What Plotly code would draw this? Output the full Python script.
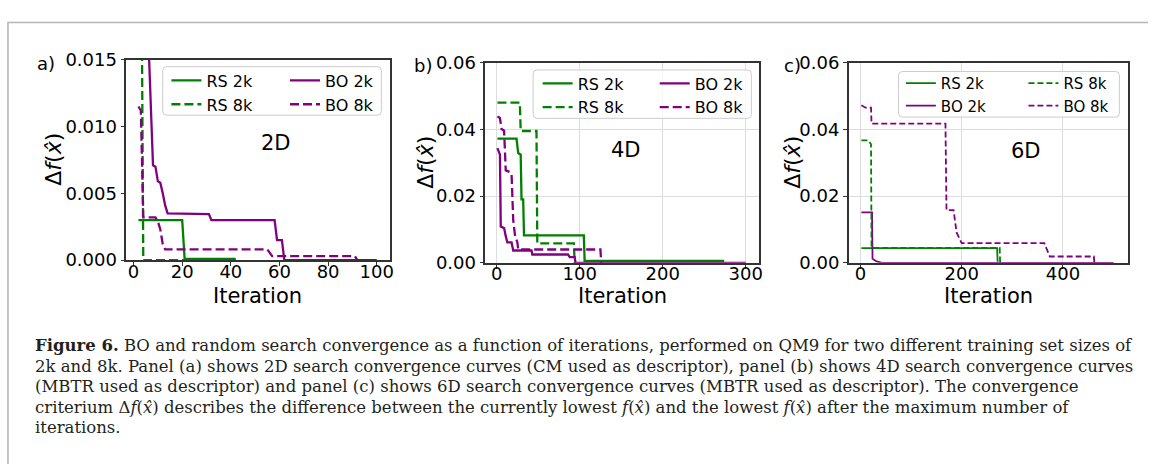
import plotly.graph_objects as go

W, H = 1152, 474

# ---------------- data ----------------
# Panel (a) 2D
a_rs2k_x = [2, 20, 21, 42]
a_rs2k_y = [0.0030, 0.0030, 0.0001, 0.0001]
a_rs8k_x = [2, 3, 4, 42]
a_rs8k_y = [0.030, 0.030, 0.0, 0.0]
a_bo2k_x = [5, 6, 8, 9, 10, 11, 12, 13, 14, 26, 27, 31, 32, 58, 59, 61, 62, 100]
a_bo2k_y = [0.030, 0.017, 0.0071, 0.0070, 0.0059, 0.0058, 0.0050, 0.0041, 0.0035,
            0.0035, 0.00345, 0.00345, 0.0030, 0.0030, 0.0015, 0.0015, 0.0, 0.0]
a_bo8k_x = [2, 3, 4, 9, 10, 11, 12, 13, 55, 56, 57, 91, 92]
a_bo8k_y = [0.0115, 0.0112, 0.0032, 0.0032, 0.0029, 0.0023, 0.0012, 0.0008,
            0.0008, 0.0005, 0.0003, 0.0003, 0.0]

# Panel (b) 4D
b_rs2k_x = [1, 24, 26, 29, 30, 32, 33, 105, 106, 274]
b_rs2k_y = [0.0372, 0.0372, 0.0329, 0.0324, 0.0190, 0.0190, 0.0082, 0.0082, 0.0006, 0.0006]
b_rs8k_x = [1, 28, 29, 48, 49, 93, 94]
b_rs8k_y = [0.048, 0.048, 0.0395, 0.0395, 0.0058, 0.0058, 0.0]
b_bo2k_x = [1, 4, 5, 9, 11, 13, 18, 20, 42, 43, 86, 88, 94, 95, 300]
b_bo2k_y = [0.0344, 0.0324, 0.0109, 0.0104, 0.0080, 0.0061, 0.0061, 0.0037, 0.0037,
            0.0025, 0.0025, 0.0017, 0.0017, 0.0, 0.0]
b_bo8k_x = [1, 4, 6, 9, 11, 16, 18, 20, 22, 25, 26, 125, 126]
b_bo8k_y = [0.0439, 0.0434, 0.0401, 0.0396, 0.0277, 0.0272, 0.0267, 0.0128, 0.0085,
            0.0061, 0.0040, 0.0040, 0.0]

# Panel (c) 6D
c_rs2k_x = [2, 270, 271]
c_rs2k_y = [0.0044, 0.0044, 0.0003]
c_rs8k_x = [2, 16, 21, 22, 275, 276]
c_rs8k_y = [0.0367, 0.0367, 0.0355, 0.0045, 0.0045, 0.0]
c_bo2k_x = [2, 23, 24, 27, 32, 38, 42, 500]
c_bo2k_y = [0.0151, 0.0151, 0.0012, 0.0008, 0.0004, 0.0002, 0.0, 0.0]
c_bo8k_x = [2, 10, 21, 22, 168, 170, 184, 187, 190, 200, 363, 374, 461, 462]
c_bo8k_y = [0.0472, 0.0465, 0.0465, 0.0417, 0.0417, 0.0158, 0.0158, 0.0115, 0.0091,
            0.0059, 0.0059, 0.0019, 0.0019, 0.0]

panel_labels = ["a)", "b)", "c)"]
panel_dims = ["2D", "4D", "6D"]
x_title = "Iteration"
y_title = "Δ<i>f</i>(<i>x̂</i>)"
a_xticks = [0, 20, 40, 60, 80, 100]
b_xticks = [0, 100, 200, 300]
c_xticks = [0, 200, 400]
a_yticks = [0.0, 0.005, 0.010, 0.015]
bc_yticks = [0.0, 0.02, 0.04, 0.06]

caption_lines = [
    "<b>Figure 6.</b> BO and random search convergence as a function of iterations, performed on QM9 for two different training set sizes of",
    "2k and 8k. Panel (a) shows 2D search convergence curves (CM used as descriptor), panel (b) shows 4D search convergence curves",
    "(MBTR used as descriptor) and panel (c) shows 6D search convergence curves (MBTR used as descriptor). The convergence",
    "criterium Δ<i>f</i>(<i>x̂</i>) describes the difference between the currently lowest <i>f</i>(<i>x̂</i>) and the lowest <i>f</i>(<i>x̂</i>) after the maximum number of",
    "iterations.",
]

GREEN = "green"
PURPLE = "purple"


def px(x):
    return x / W


def py(y):
    return 1 - y / H


fig = go.Figure()


def add(x, y, name, color, dash, width, ax, legend):
    fig.add_trace(go.Scatter(
        x=x, y=y, mode="lines", name=name,
        line=dict(color=color, width=width, dash=dash),
        xaxis="x" + ax, yaxis="y" + ax, legend=legend,
        showlegend=True,
    ))


DASH_AB = "9px,4px"
DASH_C = "6px,3px"

# Panel a
add(a_rs2k_x, a_rs2k_y, "RS 2k", GREEN, "solid", 2.3, "", "legend")
add(a_rs8k_x, a_rs8k_y, "RS 8k", GREEN, DASH_AB, 2.3, "", "legend")
add(a_bo2k_x, a_bo2k_y, "BO 2k", PURPLE, "solid", 2.3, "", "legend2")
add(a_bo8k_x, a_bo8k_y, "BO 8k", PURPLE, DASH_AB, 2.3, "", "legend2")
# Panel b
add(b_rs2k_x, b_rs2k_y, "RS 2k", GREEN, "solid", 2.3, "2", "legend3")
add(b_rs8k_x, b_rs8k_y, "RS 8k", GREEN, DASH_AB, 2.3, "2", "legend3")
add(b_bo2k_x, b_bo2k_y, "BO 2k", PURPLE, "solid", 2.3, "2", "legend4")
add(b_bo8k_x, b_bo8k_y, "BO 8k", PURPLE, DASH_AB, 2.3, "2", "legend4")
# Panel c
add(c_rs2k_x, c_rs2k_y, "RS 2k", GREEN, "solid", 1.8, "3", "legend5")
add(c_bo2k_x, c_bo2k_y, "BO 2k", PURPLE, "solid", 1.8, "3", "legend5")
add(c_rs8k_x, c_rs8k_y, "RS 8k", GREEN, DASH_C, 1.8, "3", "legend6")
add(c_bo8k_x, c_bo8k_y, "BO 8k", PURPLE, DASH_C, 1.8, "3", "legend6")

TICKFONT = dict(family="DejaVu Sans", size=18, color="black")


def xaxis(dom, rng, ticks, grid):
    return dict(domain=dom, range=rng, tickvals=ticks, ticks="outside", ticklen=4,
                tickcolor="#333", showline=True, linecolor="#333", linewidth=1.5,
                mirror=True, showgrid=grid, gridcolor="#dddddd", gridwidth=1,
                zeroline=False, tickfont=TICKFONT, ticklabelstandoff=-10)


def yaxis(dom, rng, ticks, fmt, grid, anchor):
    return dict(domain=dom, range=rng, tickvals=ticks, tickformat=fmt, ticks="outside",
                ticklen=4, tickcolor="#333", showline=True, linecolor="#333",
                linewidth=1.5, mirror=True, showgrid=grid, gridcolor="#dddddd",
                gridwidth=1, zeroline=False, tickfont=TICKFONT, anchor=anchor)


ydom_a = [py(260.7), py(51)]
ydom_bc = [py(263.5), py(54)]

fig.update_layout(
    xaxis=xaxis([px(126.7), px(391)], [-3, 105.3], a_xticks, False) | dict(anchor="y"),
    yaxis=yaxis(ydom_a, [0, 0.015], a_yticks, ".3f", False, "x"),
    xaxis2=xaxis([px(487), px(761.7)], [-13.6, 316], b_xticks, True) | dict(anchor="y2"),
    yaxis2=yaxis(ydom_bc, [0, 0.06], bc_yticks, ".2f", True, "x2"),
    xaxis3=xaxis([px(851.7), px(1131.7)], [-23, 528], c_xticks, True) | dict(anchor="y3"),
    yaxis3=yaxis(ydom_bc, [0, 0.06], bc_yticks, ".2f", True, "x3"),
)


def leg(xl, ytop, size):
    return dict(x=px(xl), y=py(ytop), xanchor="left", yanchor="top",
                bgcolor="rgba(0,0,0,0)", borderwidth=0, orientation="v",
                font=dict(family="DejaVu Sans", size=size, color="black"),
                tracegroupgap=0)


fig.update_layout(
    legend=leg(167, 55, 16),
    legend2=leg(286, 55, 16),
    legend3=leg(539.5, 58, 16),
    legend4=leg(657, 58, 16),
    legend5=leg(904, 58.5, 15),
    legend6=leg(1027, 58.5, 15),
)


def rounded_box(x0, y0, x1, y1, r=4):
    def P(x, y):
        return f"{px(x):.6f},{py(y):.6f}"
    return (f"M {P(x0 + r, y0)} L {P(x1 - r, y0)} Q {P(x1, y0)} {P(x1, y0 + r)} "
            f"L {P(x1, y1 - r)} Q {P(x1, y1)} {P(x1 - r, y1)} L {P(x0 + r, y1)} "
            f"Q {P(x0, y1)} {P(x0, y1 - r)} L {P(x0, y0 + r)} Q {P(x0, y0)} {P(x0 + r, y0)} Z")


shapes = []
for bx in [(163.3, 58.3, 382.7, 109), (535, 61.7, 754, 112.3), (901.7, 63.3, 1123.3, 111)]:
    shapes.append(dict(type="path", xref="paper", yref="paper", path=rounded_box(*bx),
                       fillcolor="rgba(255,255,255,0.8)",
                       line=dict(color="#cccccc", width=1), layer="above"))
# outer grey frame (top and left edges)
shapes.append(dict(type="path", xref="paper", yref="paper",
                   path=f"M {px(8)},{py(474)} L {px(8)},{py(12)} L {px(1152)},{py(12)}",
                   line=dict(color="#b4b4b4", width=1.5)))

annotations = []


def note(text, x, y, size, family="DejaVu Sans", xanchor="center", angle=0, color="black"):
    annotations.append(dict(text=text, x=px(x), y=py(y), xref="paper", yref="paper",
                            showarrow=False, xanchor=xanchor, yanchor="middle",
                            align="left", textangle=angle,
                            font=dict(family=family, size=size, color=color)))


for lbl, (xx, yy) in zip(panel_labels, [(46.5, 55), (424, 57), (795, 57.5)]):
    note(lbl, xx, yy, 18)
for lbl, (xx, yy) in zip(panel_dims, [(276.7, 138.3), (628.3, 145), (1030, 146.7)]):
    note(lbl, xx, yy, 21)
# axis titles
for (xx, yy) in [(258.8, 298), (624.3, 298), (991.7, 298)]:
    note(x_title, xx, yy, 21)
for (xx, yy) in [(53.3, 155.5), (426.7, 158.5), (795, 158.5)]:
    note(y_title, xx, yy, 22, angle=-90)
# caption
for i, line in enumerate(caption_lines):
    note(line, 33, 350 + 21.5 * i, 16.5, family="DejaVu Serif", xanchor="left",
         color="#231f20")

fig.update_layout(
    width=W, height=H, margin=dict(l=0, r=0, t=0, b=0),
    paper_bgcolor="white", plot_bgcolor="white",
    shapes=shapes, annotations=annotations,
)

fig.write_html("out.html")
